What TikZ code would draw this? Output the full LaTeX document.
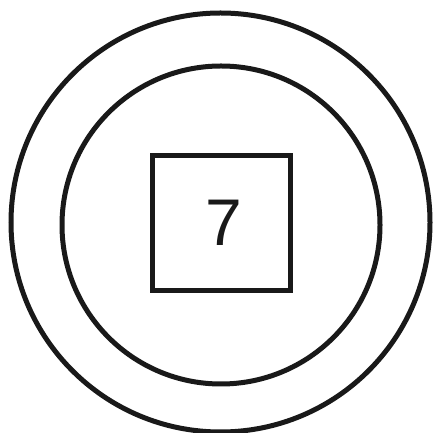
\documentclass[tikz,border=0pt]{standalone}
\usepackage{fontspec}
\setmainfont{Liberation Sans}
\begin{document}
\begin{tikzpicture}[x=1pt,y=1pt,
  ring/.style={draw=black!90, line width=5pt},
  box/.style={draw=black!90, line width=5pt, minimum width=138pt, minimum height=135pt, inner sep=0pt}]
\useasboundingbox (0,0) rectangle (432,433);
\draw[ring] (220.5,210.5) circle (209.5);
\draw[ring] (221,208) circle (159);
\node[box] (sq) at (221,210.3) {};
\node[font=\fontsize{66}{66}\selectfont, text=black!90] (num) at (223.5,210.5) {7};
\end{tikzpicture}
\end{document}
